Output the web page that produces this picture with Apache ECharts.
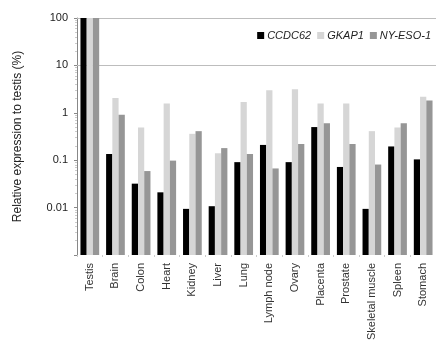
<!DOCTYPE html>
<html><head><meta charset="utf-8">
<script src="https://cdn.jsdelivr.net/npm/echarts@6/dist/echarts.min.js"></script>
<style>html,body{margin:0;padding:0;background:#fff}#c{width:436px;height:345px}</style>
</head><body><div id="c"></div>
<script>
const categories = ['Testis','Brain','Colon','Heart','Kidney','Liver','Lung','Lymph node','Ovary','Placenta','Prostate','Skeletal muscle','Spleen','Stomach'];
const seriesNames = ['CCDC62','GKAP1','NY-ESO-1'];
const ccdc62 = [100,0.135,0.032,0.021,0.0094,0.0107,0.091,0.21,0.091,0.50,0.072,0.0094,0.195,0.104];
const gkap1  = [100,2.04,0.49,1.58,0.36,0.14,1.68,3.0,3.15,1.58,1.58,0.41,0.49,2.18];
const nyeso1 = [100,0.91,0.059,0.098,0.41,0.18,0.135,0.067,0.22,0.60,0.22,0.081,0.60,1.82];
const gridLevels = [100,10];
const colors = ['#000000','#d6d6d6','#969696'];

const chart = echarts.init(document.getElementById('c'));
const mk = (name, data, i) => ({
  name, type:'bar', data, barGap:'0%', barCategoryGap:'27%',
  itemStyle:{color:colors[i]},
  z: 3,
  markLine: i===0 ? {silent:true, symbol:'none', label:{show:false},
    lineStyle:{color:'#bdbdbd', type:'solid', width:1}, z:1,
    data: gridLevels.map(v=>({yAxis:v}))} : undefined
});
chart.setOption({
  animation:false,
  textStyle:{fontFamily:'Liberation Sans, Arial, sans-serif'},
  legend:{
    right:0, top:25, itemWidth:7, itemHeight:7, itemGap:6,
    icon:'rect',
    textStyle:{fontStyle:'italic', fontSize:11, color:'#222', padding:[0,0,0,-2]},
    data:seriesNames
  },
  grid:{left:77, top:18, width:360, height:237},
  xAxis:{
    type:'category', data:categories,
    axisLine:{show:false},
    axisTick:{show:true, alignWithLabel:false, length:2, lineStyle:{color:'#ccc'}},
    axisLabel:{rotate:90, fontSize:11, color:'#333', margin:8}
  },
  yAxis:{
    type:'log', logBase:10, min:0.001, max:100, startValue:0.001,
    name:'Relative expression to testis (%)',
    nameLocation:'middle', nameGap:53, nameRotate:90,
    nameTextStyle:{fontSize:12, color:'#222'},
    axisLine:{show:true, lineStyle:{color:'#888'}},
    axisTick:{show:true, length:3, lineStyle:{color:'#888'}},
    minorTick:{show:true, splitNumber:9, length:2, lineStyle:{color:'#ccc'}},
    splitLine:{show:false},
    axisLabel:{fontSize:11, color:'#222', margin:9,
      formatter:v => v < 0.005 ? '' : String(+v.toPrecision(3))}
  },
  series:[mk(seriesNames[0], ccdc62, 0), mk(seriesNames[1], gkap1, 1), mk(seriesNames[2], nyeso1, 2)]
});
</script></body></html>
